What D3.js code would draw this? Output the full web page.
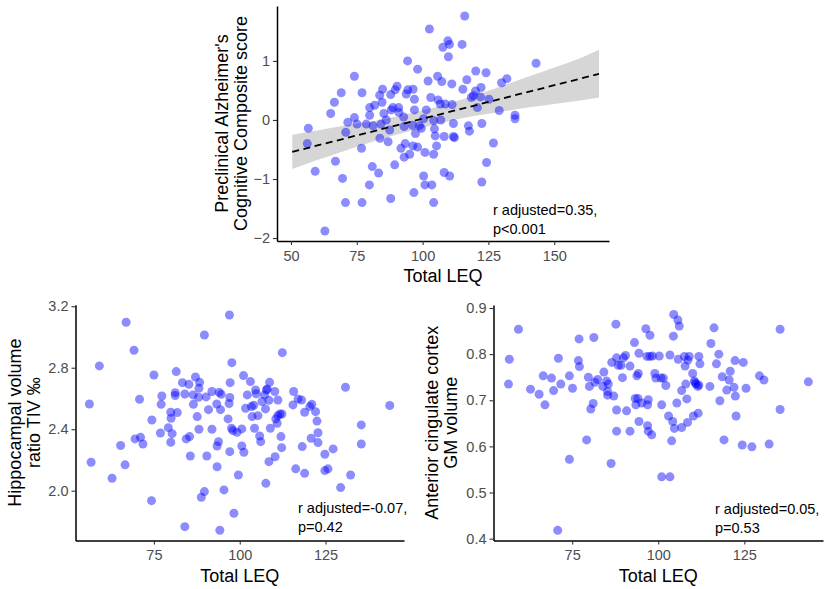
<!DOCTYPE html>
<html>
<head>
<meta charset="utf-8">
<script src="https://cdn.jsdelivr.net/npm/d3@7"></script>
<style>
  body { margin: 0; background: white; }
  text { font-family: "Liberation Sans", Arial, sans-serif; }
</style>
</head>
<body>
<div id="chart"></div>
<script>

// Top panel: Total LEQ vs PACC score
const leqPacc = [
  56.6,56.2,59.2,62.9,65.1,66.5,66.9,69.1,69.6,70.8,
  70.7,71.6,74.1,74.1,75.1,77.0,76.8,77.0,78.6,79.9,
  79.9,79.8,80.9,81.2,81.8,83.3,83.7,84.6,84.8,84.2,
  85.3,83.8,86.2,86.9,87.9,87.5,87.9,88.1,88.7,89.4,
  89.6,90.3,90.9,91.0,91.8,92.8,93.4,93.8,94.3,94.4,
  93.0,95.1,96.4,96.9,96.9,97.3,96.7,96.3,98.1,98.1,
  98.8,99.5,100.4,101.4,100.9,100.4,100.9,102.1,102.6,103.1,
  103.5,104.2,104.2,104.2,104.5,104.8,105.3,105.7,105.9,106.7,
  106.9,107.3,107.7,108.2,108.2,108.6,109.6,109.8,110.2,110.3,
  111.1,111.2,111.7,111.7,112.1,115.0,115.3,116.0,116.8,117.4,
  117.8,118.5,119.3,120.1,120.2,120.8,122.0,122.2,122.5,122.5,
  124.1,124.3,125.2,126.9,129.1,130.0,132.0,135.1,135.1,143.1,
  93.0,96.2
];
const pacc = [
  -0.14,-0.40,-0.87,-1.88,0.11,0.30,-0.70,0.46,-0.99,-0.21,
  -1.40,-0.04,0.74,0.04,-0.07,0.46,-0.48,-1.40,-0.07,0.08,
  0.21,-1.10,-0.79,-0.10,0.25,-0.90,0.42,0.30,0.52,-0.07,
  0.11,-0.31,0.00,-0.37,0.43,-0.17,-1.33,0.17,0.21,-0.76,
  0.51,0.57,0.21,0.13,-0.48,0.05,-0.40,0.44,1.00,0.51,
  -0.63,-0.58,0.52,0.35,0.17,-0.23,-1.23,-0.44,0.86,-0.46,
  -0.10,-0.14,0.02,0.17,-0.55,-0.95,-1.10,0.66,1.54,0.38,
  -1.10,-0.01,-0.58,-1.40,-0.15,-0.27,-0.44,0.74,0.34,0.27,
  0.00,0.65,1.23,-0.28,-0.89,0.27,1.34,1.07,1.28,-0.95,
  0.61,0.26,-0.06,-0.28,-0.30,1.28,0.52,1.76,0.68,-0.10,
  -0.19,0.38,0.41,0.49,0.83,0.21,0.39,0.55,-0.06,-1.05,
  0.80,-0.72,0.35,-0.39,0.16,0.63,0.70,0.08,0.02,0.96,
  -0.11,-0.09
];

// fitted line and confidence band
const fitX = [50.5, 167];
const fitY = [-0.54, 0.78];
const bandX  = [50.5, 60, 70, 80, 90, 100, 110, 120, 130, 140, 150, 160, 167];
const bandLo = [-0.83, -0.68, -0.53, -0.38, -0.25, -0.13, -0.02, 0.07, 0.14, 0.21, 0.27, 0.33, 0.38];
const bandHi = [-0.25, -0.18, -0.10, -0.03, 0.06, 0.16, 0.28, 0.42, 0.57, 0.73, 0.89, 1.05, 1.19];

// Bottom left: Total LEQ vs hippocampal volume ratio
const leqHip = [
  56.2,56.7,59.1,62.8,65.3,66.6,66.9,69.2,69.5,70.8,
  71.1,71.8,74.3,74.4,75.0,76.9,77.1,77.3,79.2,79.9,
  80.0,79.9,80.3,81.2,81.2,81.5,81.8,83.3,84.0,84.0,
  84.4,85.2,85.4,85.6,86.5,86.4,87.1,87.6,88.1,88.0,
  88.3,88.1,88.8,89.7,89.7,90.2,90.4,90.9,91.9,91.9,
  93.3,93.4,93.4,93.8,94.0,94.4,94.2,94.6,95.4,96.6,
  96.9,97.1,97.0,97.1,97.2,97.7,97.6,98.3,98.0,99.2,
  99.6,100.6,100.6,101.1,101.2,101.7,102.2,103.1,103.4,103.6,
  104.1,104.3,104.6,104.8,105.3,105.8,106.1,106.5,107.2,107.5,
  107.6,107.8,108.0,108.5,108.5,108.7,108.9,110.2,110.3,110.5,
  110.9,111.1,111.1,111.7,112.0,112.2,112.4,112.3,115.5,115.7,
  116.3,117.0,118.0,118.2,118.9,118.9,120.4,120.8,121.0,122.1,
  122.5,122.8,122.8,124.8,124.8,125.7,127.2,129.4,130.8,132.3,
  135.4,135.4,143.7
];
const hipRatio = [
  2.564,2.185,2.812,2.081,2.294,2.168,3.096,2.914,2.337,2.595,
  2.347,2.304,1.935,2.460,2.753,2.375,2.562,2.616,2.410,2.510,
  2.471,2.315,2.371,2.638,2.619,2.775,2.508,2.703,2.629,1.766,
  2.337,2.692,2.352,2.226,2.562,2.623,2.740,2.482,2.400,2.608,
  2.705,2.666,1.957,1.994,3.013,2.610,2.226,2.527,2.645,2.400,
  2.564,2.291,2.156,2.319,2.640,2.527,1.743,2.627,2.005,2.467,
  2.567,2.606,3.143,2.254,2.703,2.833,2.406,1.853,2.391,2.380,
  2.102,2.402,2.291,2.749,2.250,2.536,2.623,2.710,2.547,2.482,
  2.556,2.406,2.655,2.631,2.488,2.356,2.319,2.580,2.623,2.532,
  2.048,2.655,2.662,2.189,2.588,2.705,2.406,2.645,2.221,2.467,
  2.438,2.488,2.590,2.499,2.352,2.280,2.898,2.499,2.558,2.645,
  2.142,2.597,2.590,2.287,2.510,2.113,2.547,2.341,2.562,2.514,
  2.453,2.377,2.313,2.237,2.131,2.142,2.272,2.020,2.673,2.102,
  2.428,2.304,2.554
];

// Bottom right: Total LEQ vs anterior cingulate GM volume
const leqAcc = [
  56.75,56.5,59.4,62.9,65.4,66.6,67.1,69.0,69.6,71.0,
  71.7,70.8,74.2,74.2,75.1,76.8,77.1,77.0,79.2,79.7,
  80.0,80.4,81.1,81.3,81.6,82.4,83.9,84.2,85.0,85.3,
  85.3,85.5,86.3,86.5,87.1,87.7,87.9,87.9,87.9,88.4,
  89.2,89.6,89.9,90.5,90.8,91.8,91.8,93.1,93.3,93.5,
  93.8,94.1,94.2,94.4,94.4,95.2,96.4,96.7,96.9,96.9,
  97.1,97.1,97.6,97.6,98.1,98.3,99.0,99.3,100.3,100.8,
  101.0,101.0,101.5,102.2,103.0,103.4,103.4,103.9,104.2,104.4,
  104.5,104.7,105.4,105.7,105.8,106.1,106.8,106.8,107.6,107.8,
  108.0,108.3,108.5,108.6,109.0,110.0,110.2,110.5,110.7,111.0,
  111.5,111.6,111.8,112.1,111.8,115.0,115.3,116.2,116.9,117.6,
  117.9,118.6,119.1,119.9,120.6,120.9,122.0,122.3,122.4,122.6,
  124.4,124.7,125.5,127.2,129.4,130.7,132.2,135.4,135.4,143.6
];
const accVol = [
  0.789,0.735,0.854,0.724,0.713,0.753,0.690,0.748,0.721,0.791,
  0.735,0.418,0.753,0.572,0.726,0.786,0.773,0.833,0.614,0.750,
  0.730,0.681,0.693,0.836,0.739,0.745,0.730,0.761,0.742,0.719,
  0.711,0.735,0.563,0.782,0.709,0.865,0.792,0.679,0.633,0.776,
  0.776,0.749,0.792,0.797,0.677,0.774,0.633,0.825,0.704,0.690,
  0.753,0.704,0.758,0.802,0.654,0.694,0.855,0.795,0.690,0.645,
  0.701,0.633,0.841,0.795,0.625,0.796,0.758,0.748,0.796,0.748,
  0.690,0.534,0.748,0.732,0.666,0.534,0.798,0.612,0.654,0.839,
  0.886,0.639,0.694,0.874,0.789,0.861,0.721,0.641,0.795,0.774,
  0.735,0.703,0.652,0.787,0.795,0.758,0.666,0.742,0.738,0.735,
  0.730,0.672,0.795,0.779,0.733,0.730,0.823,0.857,0.779,0.800,
  0.699,0.751,0.614,0.722,0.744,0.763,0.728,0.786,0.709,0.666,
  0.603,0.782,0.726,0.599,0.753,0.744,0.605,0.854,0.680,0.740
];

// tick values
const xTicksTop = [50, 75, 100, 125, 150];
const yTicksTop = [-2, -1, 0, 1];
const xTicksBottom = [75, 100, 125];
const yTicksHip = [2.0, 2.4, 2.8, 3.2];
const yTicksAcc = [0.4, 0.5, 0.6, 0.7, 0.8, 0.9];

const width = 829;
const height = 589;

const svg = d3.select("#chart").append("svg")
    .attr("width", width)
    .attr("height", height);

svg.append("rect")
    .attr("width", width)
    .attr("height", height)
    .attr("fill", "white");

function drawPanel(p) {
    const x = d3.scaleLinear().domain(p.xDomain).range([p.left, p.right]);
    const y = d3.scaleLinear().domain(p.yDomain).range([p.bottom, p.top]);
    const g = svg.append("g");

    // confidence band
    if (p.band) {
        const area = d3.area()
            .x((d, i) => x(d))
            .y0((d, i) => y(bandLo[i]))
            .y1((d, i) => y(bandHi[i]))
            .curve(d3.curveMonotoneX);
        g.append("path")
            .datum(bandX)
            .attr("d", area)
            .attr("fill", "#999999")
            .attr("fill-opacity", 0.4);
    }

    // points
    g.selectAll("circle")
        .data(p.xs)
        .join("circle")
        .attr("cx", d => x(d))
        .attr("cy", (d, i) => y(p.ys[i]))
        .attr("r", 4.5)
        .attr("fill", "#0000ff")
        .attr("fill-opacity", 0.45);

    // fitted line
    if (p.band) {
        g.append("path")
            .datum(fitX)
            .attr("d", d3.line().x(d => x(d)).y((d, i) => y(fitY[i])))
            .attr("fill", "none")
            .attr("stroke", "black")
            .attr("stroke-width", 1.8)
            .attr("stroke-dasharray", "7,4.5");
    }

    // axes
    const xAxis = g.append("g")
        .attr("transform", `translate(0,${p.bottom})`)
        .call(d3.axisBottom(x).tickValues(p.xTicks).tickSize(4).tickSizeOuter(0).tickPadding(5.5));
    const yAxis = g.append("g")
        .attr("transform", `translate(${p.left},0)`)
        .call(d3.axisLeft(y).tickValues(p.yTicks).tickFormat(p.yFormat).tickSize(4).tickSizeOuter(0).tickPadding(3));

    [xAxis, yAxis].forEach(a => {
        a.select(".domain").attr("stroke", "black").attr("stroke-width", 1.5);
        a.selectAll(".tick line").attr("stroke", "#333333").attr("stroke-width", 1.1);
        a.selectAll(".tick text")
            .attr("fill", "#4d4d4d")
            .attr("font-size", "14.5px")
            .attr("font-family", "'Liberation Sans', Arial, sans-serif");
    });

    // x title
    g.append("text")
        .attr("x", (p.left + p.right) / 2)
        .attr("y", p.bottom + 41)
        .attr("text-anchor", "middle")
        .attr("font-size", "18px")
        .attr("fill", "black")
        .text("Total LEQ");

    // y title (two lines)
    const cy = (p.top + p.bottom) / 2;
    p.yTitle.forEach((line, i) => {
        g.append("text")
            .attr("transform", `translate(${p.yTitleX + i * 19},${cy}) rotate(-90)`)
            .attr("text-anchor", "middle")
            .attr("font-size", "18px")
            .attr("fill", "black")
            .text(line);
    });

    // annotation
    p.note.forEach((line, i) => {
        g.append("text")
            .attr("x", p.noteX)
            .attr("y", p.noteY + i * 19)
            .attr("font-size", "14.5px")
            .attr("fill", "black")
            .text(line);
    });
}

drawPanel({
    xs: leqPacc, ys: pacc,
    xDomain: [44.7, 170.8], yDomain: [-2.05, 1.93],
    left: 277, right: 609, top: 6, bottom: 241,
    xTicks: xTicksTop, yTicks: yTicksTop, yFormat: d3.format("d"),
    yTitle: ["Preclinical Alzheimer's", "Cognitive Composite score"], yTitleX: 228,
    note: ["r adjusted=0.35,", "p<0.001"], noteX: 493, noteY: 215,
    band: true
});

drawPanel({
    xs: leqHip, ys: hipRatio,
    xDomain: [52.15, 147.85], yDomain: [1.676, 3.21],
    left: 75.5, right: 404, top: 304.7, bottom: 540.5,
    xTicks: xTicksBottom, yTicks: yTicksHip, yFormat: d3.format(".1f"),
    yTitle: ["Hippocampal volume", "ratio TIV \u2030"], yTitleX: 21,
    note: ["r adjusted=-0.07,", "p=0.42"], noteX: 298, noteY: 513,
    band: false
});

drawPanel({
    xs: leqAcc, ys: accVol,
    xDomain: [52.15, 147.85], yDomain: [0.396, 0.9065],
    left: 493.5, right: 823, top: 305, bottom: 540.5,
    xTicks: xTicksBottom, yTicks: yTicksAcc, yFormat: d3.format(".1f"),
    yTitle: ["Anterior cingulate cortex", "GM volume"], yTitleX: 438,
    note: ["r adjusted=0.05,", "p=0.53"], noteX: 715, noteY: 514,
    band: false
});

</script>
</body>
</html>
